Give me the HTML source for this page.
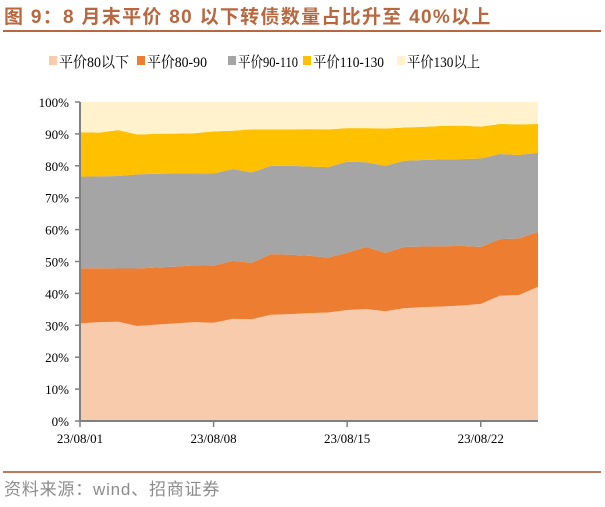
<!DOCTYPE html>
<html><head><meta charset="utf-8"><style>
body{margin:0;width:605px;height:502px;background:#fff;overflow:hidden;font-family:"Liberation Serif","Noto Serif CJK SC",serif;}
</style></head><body>
<svg width="605" height="502" xmlns="http://www.w3.org/2000/svg">
<text x="4" y="23" font-family="Liberation Sans,Noto Sans CJK SC,sans-serif" font-weight="bold" font-size="19" letter-spacing="1.3" fill="#B8673F">图 9：8 月末平价 80 以下转债数量占比升至 40%以上</text>
<rect x="3" y="30" width="598" height="2" fill="#B8673F"/>
<g id="legend"></g>
<g id="areas"></g>
<g id="axes"></g>
<rect x="3" y="471" width="598" height="2" fill="#C0785A"/>
<text x="4" y="495" font-family="Liberation Sans,Noto Sans CJK SC,sans-serif" font-size="17" letter-spacing="0.8" fill="#8c8c8c">资料来源：wind、招商证券</text>
</svg>
<script>
const seriesNames=["平价80以下","平价80-90","平价90-110","平价110-130","平价130以上"];
const seriesColors=["#F8CBAD","#ED7D31","#A5A5A5","#FFC000","#FFF2CC"];
const xTickLabels=["23/08/01","23/08/08","23/08/15","23/08/22"];
const xTickIndex=[0,7,14,21];
const yTickLabels=["0%","10%","20%","30%","40%","50%","60%","70%","80%","90%","100%"];
// cumulative boundaries (%)
const cum1=[30.6,31,31.1,29.8,30.2,30.6,31,30.8,32,31.9,33.3,33.5,33.8,34,34.8,35.1,34.4,35.4,35.7,35.9,36.2,36.7,39.3,39.5,42.1];
const cum2=[47.9,47.9,47.8,47.8,48.1,48.4,48.8,48.7,50.2,49.6,52.3,52.1,51.8,51.2,52.8,54.6,52.7,54.6,54.7,54.8,54.9,54.6,57,57.2,59.3];
const cum3=[76.6,76.7,76.8,77.3,77.5,77.6,77.7,77.6,79,77.9,80,80,79.8,79.6,81.3,81.1,80,81.6,81.8,82,82.1,82.3,83.7,83.4,84.1];
const cum4=[90.5,90.4,91.2,89.8,90,90.1,90.2,90.8,91,91.4,91.4,91.4,91.5,91.4,91.8,91.8,91.7,92,92.2,92.5,92.6,92.3,93.1,93,93.1];
const NS="http://www.w3.org/2000/svg";
const X0=80,X1=538,Y0=421,Y1=102;
const n=cum1.length;
const xs=i=>X0+(X1-X0)*i/(n-1);
const ys=v=>Y0-(Y0-Y1)*v/100;
function mk(t,a){const e=document.createElementNS(NS,t);for(const k in a)e.setAttribute(k,a[k]);return e;}
const bounds=[cum1.map(()=>0),cum1,cum2,cum3,cum4,cum1.map(()=>100)];
const areas=document.getElementById('areas');
for(let s=0;s<5;s++){
  const lo=bounds[s],hi=bounds[s+1];
  let d="";
  for(let i=0;i<n;i++)d+=(i?"L":"M")+xs(i)+","+ys(hi[i]);
  for(let i=n-1;i>=0;i--)d+="L"+xs(i)+","+ys(lo[i]);
  const p=mk('path',{d:d+"Z",fill:seriesColors[s]});
  
  
  areas.appendChild(p);
}
const ax=document.getElementById('axes');
ax.appendChild(mk('line',{x1:X0,y1:Y1,x2:X0,y2:Y0,stroke:'#808080','stroke-width':2}));
ax.appendChild(mk('line',{x1:X0,y1:Y0,x2:X1,y2:Y0,stroke:'#808080','stroke-width':2}));
yTickLabels.forEach((l,i)=>{
  const y=ys(i*10);
  ax.appendChild(mk('line',{x1:X0-5,y1:y,x2:X0,y2:y,stroke:'#808080','stroke-width':1.5}));
  const t=mk('text',{x:69,y:y+5,'text-anchor':'end','font-size':13,fill:'#000'});
  t.textContent=l;
  
  
  ax.appendChild(t);
});
xTickLabels.forEach((l,k)=>{
  const x=xs(xTickIndex[k]);
  ax.appendChild(mk('line',{x1:x,y1:Y0,x2:x,y2:Y0+6,stroke:'#808080','stroke-width':1.5}));
  const t=mk('text',{x:x,y:443,'text-anchor':'middle','font-size':13,fill:'#000'});
  t.textContent=l;
  
  
  ax.appendChild(t);
});
const lg=document.getElementById('legend');
const lx=[49,137,228,303,397];
const lw=[70,60,60,71,73];
seriesNames.forEach((nm,i)=>{
  const g=mk('g',{});
  
  
  g.appendChild(mk('rect',{x:lx[i],y:56,width:8,height:9,fill:seriesColors[i]}));
  const t=mk('text',{x:lx[i]+10,y:67,'font-size':15,fill:'#000',textLength:lw[i],lengthAdjust:'spacingAndGlyphs'});
  t.textContent=nm;
  g.appendChild(t);
  lg.appendChild(g);
});
</script>
</body></html>
